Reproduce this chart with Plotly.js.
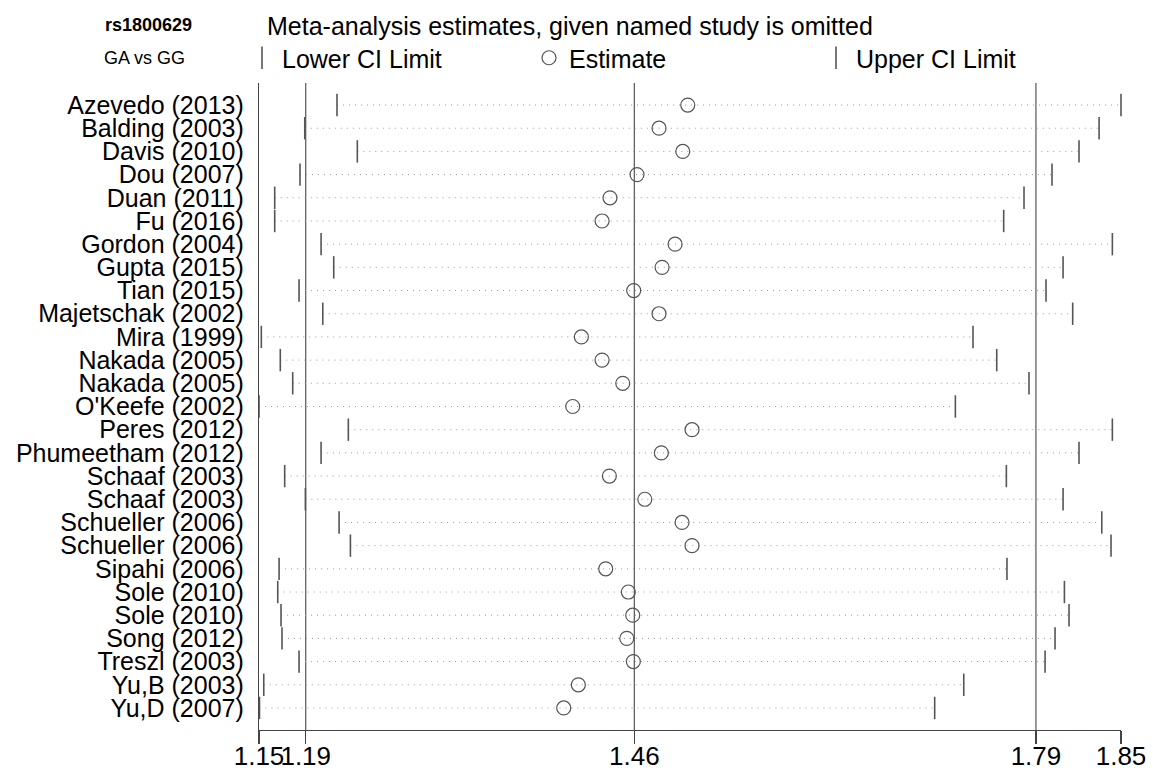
<!DOCTYPE html>
<html>
<head>
<meta charset="utf-8">
<script src="https://cdn.plot.ly/plotly-3.0.1.min.js"></script>
<style>
  html, body { margin: 0; padding: 0; background: #fff; }
  #chart { width: 1153px; height: 770px; }
</style>
</head>
<body>
<div id="chart"></div>
<script>
// ---- data ----
const studies = [
  "Azevedo (2013)", "Balding (2003)", "Davis (2010)", "Dou (2007)", "Duan (2011)",
  "Fu (2016)", "Gordon (2004)", "Gupta (2015)", "Tian (2015)", "Majetschak (2002)",
  "Mira (1999)", "Nakada (2005)", "Nakada (2005)", "O'Keefe (2002)", "Peres (2012)",
  "Phumeetham (2012)", "Schaaf (2003)", "Schaaf (2003)", "Schueller (2006)", "Schueller (2006)",
  "Sipahi (2006)", "Sole (2010)", "Sole (2010)", "Song (2012)", "Treszl (2003)",
  "Yu,B (2003)", "Yu,D (2007)"
];
const lowerCI = [
  1.2157, 1.1892, 1.2324, 1.1853, 1.1645, 1.1645, 1.2026, 1.2130, 1.1845, 1.2040,
  1.1535, 1.1691, 1.1793, 1.1516, 1.2250, 1.2026, 1.1727, 1.1897, 1.2174, 1.2267,
  1.1681, 1.1670, 1.1697, 1.1705, 1.1845, 1.1555, 1.1520
];
const estimate = [
  1.5039, 1.4803, 1.4998, 1.4622, 1.4400, 1.4335, 1.4935, 1.4828, 1.4595, 1.4803,
  1.4165, 1.4335, 1.4505, 1.4094, 1.5074, 1.4822, 1.4395, 1.4686, 1.4992, 1.5074,
  1.4365, 1.4551, 1.4587, 1.4538, 1.4592, 1.4140, 1.4020
];
const upperCI = [
  1.8599, 1.8419, 1.8254, 1.8032, 1.7802, 1.7635, 1.8528, 1.8123, 1.7983, 1.8202,
  1.7383, 1.7578, 1.7843, 1.7238, 1.8528, 1.8254, 1.7657, 1.8123, 1.8441, 1.8517,
  1.7662, 1.8134, 1.8172, 1.8057, 1.7975, 1.7307, 1.7068
];
// overall (all studies): lower CI, estimate, upper CI
const overall = [1.19, 1.46, 1.79];
const xTickVals = [1.1516, 1.19, 1.46, 1.79, 1.8599];
const xTickText = ["1.15", "1.19", "1.46", "1.79", "1.85"];
const titleText = "Meta-analysis estimates, given named study is omitted";
const snpText = "rs1800629";
const modelText = "GA vs GG";
const legendNames = ["Lower CI Limit", "Estimate", "Upper CI Limit"];

// ---- build traces ----
const rows = studies.map((_, i) => i);
const FONT = "Liberation Sans, Arial, Helvetica, sans-serif";
const GREY = "#555555";

const dotX = [], dotY = [];
rows.forEach(i => { dotX.push(lowerCI[i], upperCI[i], null); dotY.push(i, i, null); });

const traces = [
  {
    type: "scatter", mode: "lines", x: dotX, y: dotY, showlegend: false, hoverinfo: "skip",
    line: { color: "#9a9a9a", width: 1, dash: "1px,5px" }, cliponaxis: false
  },
  {
    type: "scatter", mode: "markers", name: legendNames[0], x: lowerCI, y: rows,
    marker: { symbol: "line-ns", size: 16, line: { color: GREY, width: 1.6 } }, cliponaxis: false
  },
  {
    type: "scatter", mode: "markers", name: legendNames[1], x: estimate, y: rows,
    marker: { symbol: "circle-open", size: 14, color: GREY, line: { color: GREY, width: 1.2 } }, cliponaxis: false
  },
  {
    type: "scatter", mode: "markers", name: legendNames[2], x: upperCI, y: rows,
    marker: { symbol: "line-ns", size: 16, line: { color: GREY, width: 1.6 } }, cliponaxis: false
  }
];

const shapes = overall.map(v => ({
  type: "line", xref: "x", yref: "paper", x0: v, x1: v, y0: 0, y1: 1,
  line: { color: GREY, width: 1.2 }, layer: "below"
}));

const layout = {
  width: 1153, height: 770,
  margin: { l: 259, r: 32, t: 83, b: 40, pad: 0 },
  paper_bgcolor: "#ffffff", plot_bgcolor: "#ffffff",
  font: { family: FONT, color: "#000000", size: 25 },
  title: {
    text: titleText, font: { family: FONT, size: 25, color: "#000" },
    xref: "container", yref: "container", x: 267 / 1153, xanchor: "left",
    y: 1 - 26 / 770, yanchor: "middle"
  },
  xaxis: {
    range: [xTickVals[0], xTickVals[4]], tickmode: "array", tickvals: xTickVals, ticktext: xTickText,
    tickangle: 0, ticks: "outside", ticklen: 13, tickwidth: 1.2, tickcolor: "#444",
    ticklabelstandoff: -10,
    showline: true, linecolor: "#444", linewidth: 1.2, showgrid: false, zeroline: false,
    tickfont: { family: FONT, size: 26, color: "#000" }, automargin: false, fixedrange: true
  },
  yaxis: {
    range: [studies.length - 0.05, -0.95], tickmode: "array", tickvals: rows, ticktext: studies,
    ticks: "", ticklabelstandoff: 9, showline: true, linecolor: "#444", linewidth: 1.2,
    showgrid: false, zeroline: false, tickfont: { family: FONT, size: 25, color: "#000" },
    automargin: false, fixedrange: true
  },
  showlegend: true,
  legend: {
    orientation: "h", x: (242 - 259) / 862, xanchor: "left", y: (730 - 58) / 647, yanchor: "middle",
    font: { family: FONT, size: 25, color: "#000" }, entrywidth: 242, entrywidthmode: "pixels",
    bgcolor: "rgba(0,0,0,0)", borderwidth: 0, itemclick: false, itemdoubleclick: false,
    tracegroupgap: 0
  },
  annotations: [
    { text: "<b>" + snpText + "</b>", xref: "paper", yref: "paper", x: (148 - 259) / 862, y: (730 - 25) / 647,
      xanchor: "center", yanchor: "middle", showarrow: false, font: { family: FONT, size: 18, color: "#000" } },
    { text: modelText, xref: "paper", yref: "paper", x: (144 - 259) / 862, y: (730 - 58) / 647,
      xanchor: "center", yanchor: "middle", showarrow: false, font: { family: FONT, size: 18, color: "#000" } }
  ],
  shapes: shapes,
  hovermode: false
};

Plotly.newPlot("chart", traces, layout, { displayModeBar: false, staticPlot: true });
</script>
</body>
</html>
